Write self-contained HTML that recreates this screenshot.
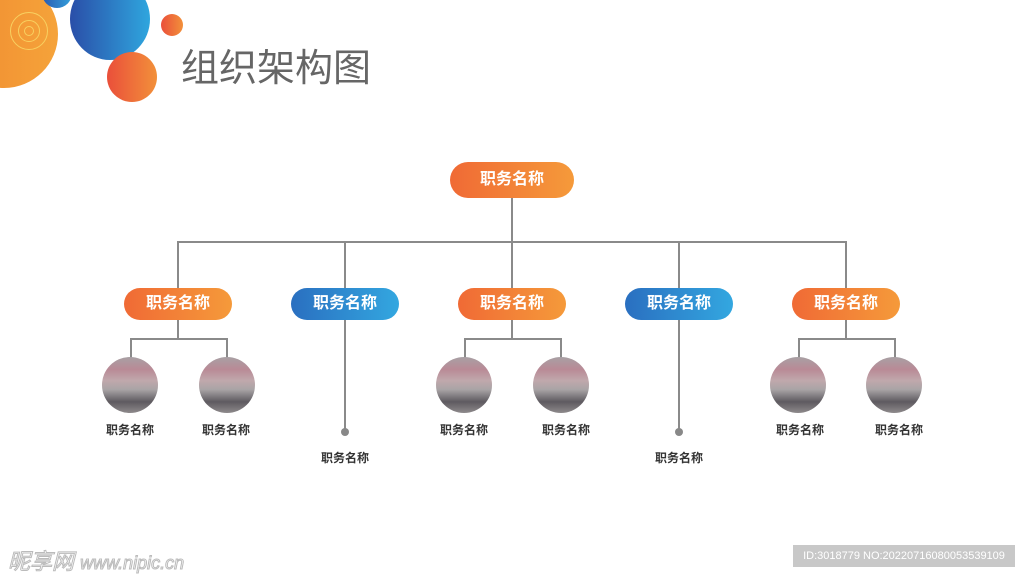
<!DOCTYPE html>
<html><head><meta charset="utf-8"><style>
body{margin:0;width:1024px;height:576px;background:#fff;position:relative;overflow:hidden;font-family:"Liberation Sans","Noto Sans CJK SC",sans-serif}
.a{position:absolute}
.c{position:absolute;border-radius:50%}
.n{position:absolute;color:#fff;font-weight:bold;text-align:center;border-radius:16px;font-size:16px}
.o{background:linear-gradient(90deg,#f06a35,#f59a3a)}
.b{background:linear-gradient(90deg,#2a6fc0,#33a7e0)}
.l{position:absolute;background:#8a8a8a}
.p{position:absolute;width:56px;height:56px;border-radius:50%;background:linear-gradient(180deg,#a8a0a4 0%,#b98a96 22%,#c0a8ac 42%,#a9a4a6 58%,#5e5a60 80%,#8e8a8c 100%)}
.t{position:absolute;font-size:12px;font-weight:bold;color:#333;width:80px;text-align:center}
</style></head><body>
<div class="c" style="left:-50px;top:-20px;width:108px;height:108px;background:linear-gradient(90deg,#f08a30,#f5a33a)"></div>
<div class="c" style="left:10px;top:12px;width:36px;height:36px;border:1px solid #f8d060"></div>
<div class="c" style="left:18px;top:20px;width:20px;height:20px;border:1px solid #f8d060"></div>
<div class="c" style="left:24px;top:26px;width:8px;height:8px;border:1px solid #f8d060"></div>
<div class="c" style="left:42px;top:-22px;width:30px;height:30px;background:linear-gradient(90deg,#2a5ab0,#33a0dc)"></div>
<div class="c" style="left:70px;top:-22px;width:80px;height:82px;background:linear-gradient(90deg,#2a4ea8,#2fa6de)"></div>
<div class="c" style="left:107px;top:52px;width:50px;height:50px;background:linear-gradient(90deg,#ea4f3a,#f2903a)"></div>
<div class="c" style="left:161px;top:14px;width:22px;height:22px;background:linear-gradient(90deg,#ea4f3a,#f2903a)"></div>
<div class="a" style="left:181px;top:42px;font-size:38px;color:#666;font-family:'Noto Sans CJK SC',sans-serif;line-height:46px">组织架构图</div>

<div class="n o" style="left:450px;top:162px;width:124px;height:36px;line-height:36px;border-radius:18px">职务名称</div>
<div class="l" style="left:511px;top:198px;width:2px;height:44px"></div>
<div class="l" style="left:178px;top:241px;width:669px;height:2px"></div>

<div class="l" style="left:177px;top:241px;width:2px;height:47px"></div>
<div class="l" style="left:344px;top:241px;width:2px;height:47px"></div>
<div class="l" style="left:511px;top:241px;width:2px;height:47px"></div>
<div class="l" style="left:678px;top:241px;width:2px;height:47px"></div>
<div class="l" style="left:845px;top:241px;width:2px;height:47px"></div>

<div class="n o" style="left:124px;top:288px;width:108px;height:32px;line-height:32px">职务名称</div>
<div class="n b" style="left:291px;top:288px;width:108px;height:32px;line-height:32px">职务名称</div>
<div class="n o" style="left:458px;top:288px;width:108px;height:32px;line-height:32px">职务名称</div>
<div class="n b" style="left:625px;top:288px;width:108px;height:32px;line-height:32px">职务名称</div>
<div class="n o" style="left:792px;top:288px;width:108px;height:32px;line-height:32px">职务名称</div>

<div class="l" style="left:177px;top:320px;width:2px;height:18px"></div>
<div class="l" style="left:130px;top:338px;width:98px;height:2px"></div>
<div class="l" style="left:130px;top:338px;width:2px;height:20px"></div>
<div class="l" style="left:226px;top:338px;width:2px;height:20px"></div>
<div class="p" style="left:102px;top:357px"></div>
<div class="p" style="left:199px;top:357px"></div>
<div class="t" style="left:90px;top:421px">职务名称</div>
<div class="t" style="left:186px;top:421px">职务名称</div>

<div class="l" style="left:511px;top:320px;width:2px;height:18px"></div>
<div class="l" style="left:464px;top:338px;width:98px;height:2px"></div>
<div class="l" style="left:464px;top:338px;width:2px;height:20px"></div>
<div class="l" style="left:560px;top:338px;width:2px;height:20px"></div>
<div class="p" style="left:436px;top:357px"></div>
<div class="p" style="left:533px;top:357px"></div>
<div class="t" style="left:424px;top:421px">职务名称</div>
<div class="t" style="left:526px;top:421px">职务名称</div>

<div class="l" style="left:845px;top:320px;width:2px;height:18px"></div>
<div class="l" style="left:798px;top:338px;width:98px;height:2px"></div>
<div class="l" style="left:798px;top:338px;width:2px;height:20px"></div>
<div class="l" style="left:894px;top:338px;width:2px;height:20px"></div>
<div class="p" style="left:770px;top:357px"></div>
<div class="p" style="left:866px;top:357px"></div>
<div class="t" style="left:760px;top:421px">职务名称</div>
<div class="t" style="left:859px;top:421px">职务名称</div>

<div class="l" style="left:344px;top:320px;width:2px;height:112px"></div>
<div class="c" style="left:341px;top:428px;width:8px;height:8px;background:#888"></div>
<div class="t" style="left:305px;top:449px">职务名称</div>
<div class="l" style="left:678px;top:320px;width:2px;height:112px"></div>
<div class="c" style="left:675px;top:428px;width:8px;height:8px;background:#888"></div>
<div class="t" style="left:639px;top:449px">职务名称</div>

<div class="a" style="left:8px;top:544px;font-size:22px;color:#fff;-webkit-text-stroke:1px #bbb;font-style:italic">昵享网 <span style="font-size:18px">www.nipic.cn</span></div>
<div class="a" style="left:793px;top:545px;width:222px;height:22px;background:#c8c8c8;color:#fff;font-size:11px;line-height:22px;text-align:center">ID:3018779 NO:20220716080053539109</div>
</body></html>
